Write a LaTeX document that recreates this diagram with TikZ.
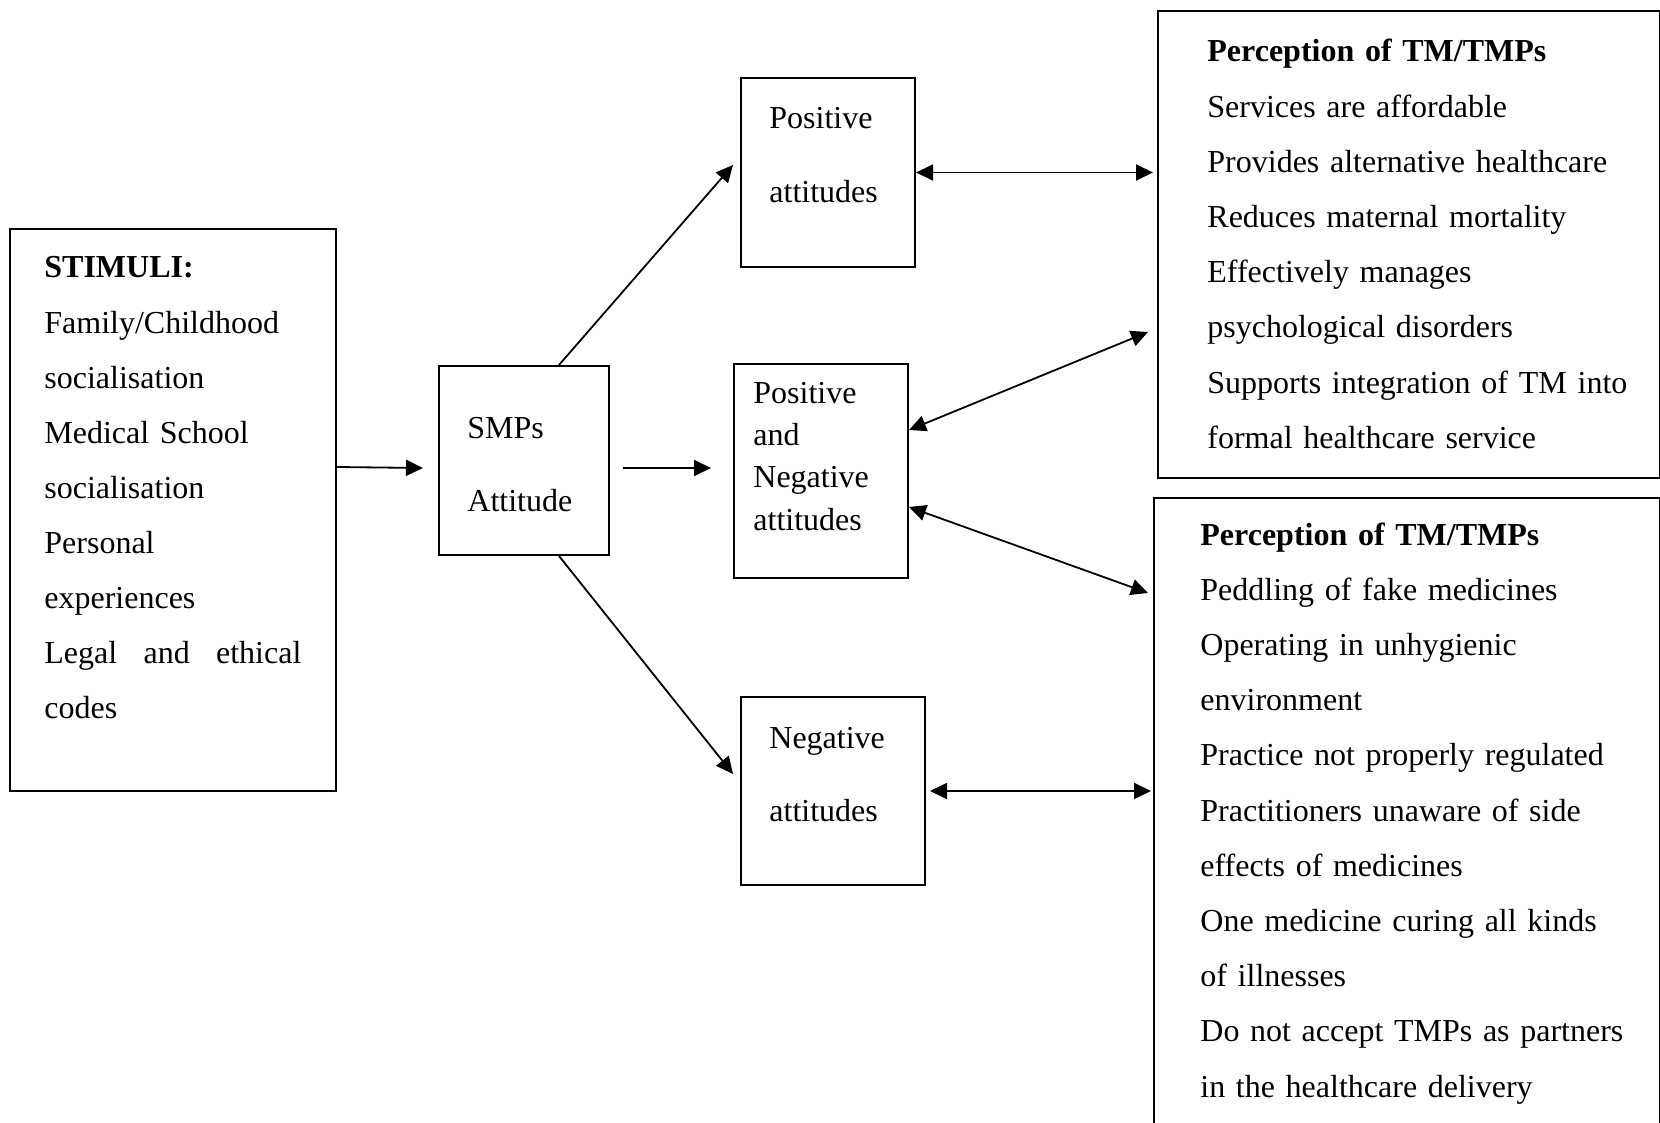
\documentclass[tikz,border=0pt]{standalone}
\usepackage{fontspec}
\setmainfont{Liberation Serif}
\usetikzlibrary{arrows.meta}

\begin{document}
\begin{tikzpicture}[
    x=0.5pt, y=-0.5pt,
    box/.style 2 args={draw, line width=1pt, anchor=north west, inner sep=0pt,
        minimum width=#1, minimum height=#2},
    txt/.style={anchor=base west, inner sep=0pt, align=left, text width=#1},
    lines/.style={font=\fontsize{16}{#1}\selectfont},
    arr/.style={-{Triangle[length=8.5pt,width=8pt]}, line width=0.9pt},
    dbl/.style={{Triangle[length=8.5pt,width=8pt]}-{Triangle[length=8.5pt,width=8pt]}, line width=0.9pt}
]
\clip (0,0) rectangle (1660,1123);

% boxes
\node[box={163pt}{281pt}] (stim) at (9,228) {};
\node[box={85pt}{94.5pt}] (smps) at (438,365) {};
\node[box={87pt}{94.5pt}] (pos) at (740,77) {};
\node[box={87pt}{107pt}] (pn) at (733,363) {};
\node[box={92pt}{94pt}] (neg) at (740,696) {};
\node[box={251pt}{233.5pt}] (perc1) at (1157,10) {};
\node[box={253pt}{330pt}] (perc2) at (1153,497) {};   % <- runs off the page

% texts
\node[txt=140pt, lines=27.55pt] (stimtext) at (44,278) {\textbf{STIMULI:}\\
    Family/Childhood\\ socialisation\\ Medical School\\ socialisation\\
    Personal\\ experiences\\ \makebox[128.5pt]{Legal\hfill and\hfill ethical}\\ codes};
\node[txt=80pt, lines=36.5pt] (smpstext) at (467,438) {SMPs\\ Attitude};
\node[txt=80pt, lines=37pt] (postext) at (769,129) {Positive\\ attitudes};
\node[txt=80pt, lines=21.2pt] (pntext) at (753,403) {Positive\\ and\\ Negative\\ attitudes};
\node[txt=80pt, lines=36.5pt] (negtext) at (769,748) {Negative\\ attitudes};
\node[txt=230pt, lines=27.6pt] (perc1text) at (1207,62) {\textbf{Perception of TM/TMPs}\\
    Services are affordable\\ Provides alternative healthcare\\
    Reduces maternal mortality\\ Effectively manages\\ psychological disorders\\
    \makebox[210pt]{Supports\hfill integration\hfill of\hfill TM\hfill into}\\ formal healthcare service};
\node[txt=230pt, lines=27.6pt] (perc2text) at (1200,545) {\textbf{Perception of TM/TMPs}\\
    Peddling of fake medicines\\ Operating in unhygienic\\ environment\\
    Practice not properly regulated\\ Practitioners unaware of side\\
    effects of medicines\\ One medicine curing all kinds\\ of illnesses\\
    Do not accept TMPs as partners\\ in the healthcare delivery};

% connectors
\draw[arr] (stim.east |- 0,467) -- ([xshift=-7.5pt,yshift=-3.75pt]smps.west);
\draw[arr] ([xshift=6.5pt,yshift=-3.75pt]smps.east) -- ([xshift=-11pt,yshift=1.5pt]pn.west);
\draw[arr] ([xshift=17.5pt]smps.north) -- ([xshift=-3.5pt,yshift=3.75pt]pos.west);
\draw[arr] ([xshift=17.5pt]smps.south) -- ([xshift=-3.5pt,yshift=8.5pt]neg.west);
\draw[dbl] (pos.east) -- ([xshift=-2pt]perc1.west |- pos.east);
\draw[dbl] ([yshift=20.5pt]pn.east) -- ([xshift=-4.5pt,yshift=-161pt]perc1.north west);
\draw[dbl] ([yshift=-18pt]pn.east) -- ([xshift=-2.5pt,yshift=-48pt]perc2.north west);
\draw[dbl] ([xshift=2pt]neg.east) -- ([xshift=-1pt]perc2.west |- neg.east);
\end{tikzpicture}
\end{document}
